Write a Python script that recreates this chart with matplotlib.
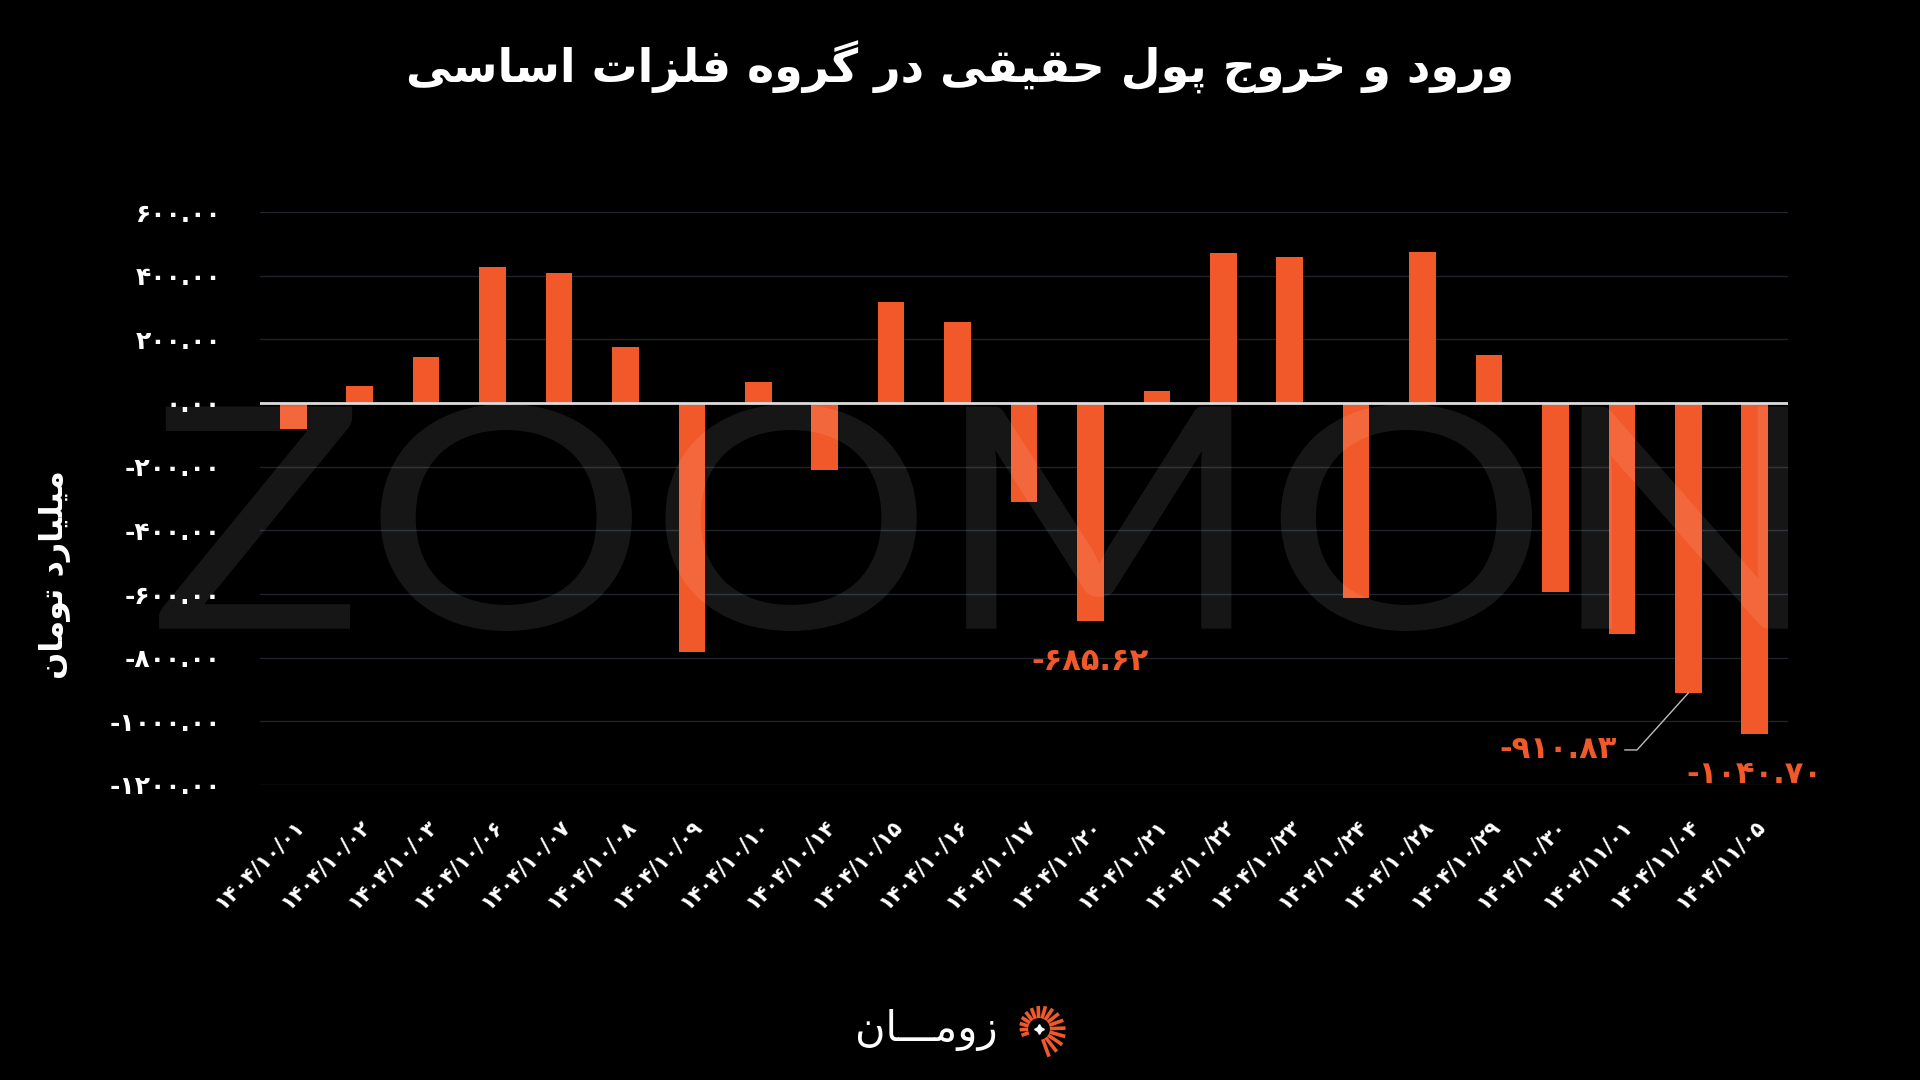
import numpy as np
import matplotlib.pyplot as plt
from matplotlib.textpath import TextPath
from matplotlib.font_manager import FontProperties
from matplotlib.patches import PathPatch
from matplotlib.transforms import Affine2D

# داده ها
dates = ['1404/10/01', '1404/10/02', '1404/10/03', '1404/10/06', '1404/10/07',
         '1404/10/08', '1404/10/09', '1404/10/10', '1404/10/14', '1404/10/15',
         '1404/10/16', '1404/10/17', '1404/10/20', '1404/10/21', '1404/10/22',
         '1404/10/23', '1404/10/24', '1404/10/28', '1404/10/29', '1404/10/30',
         '1404/11/01', '1404/11/04', '1404/11/05']
values = [-82, 52, 143, 427, 408, 175, -783, 67, -210, 317, 256, -310, -685.62,
          39, 470, 459, -612, 475, 152, -594, -725, -910.83, -1040.70]
yticks = [600, 400, 200, 0, -200, -400, -600, -800, -1000, -1200]
labelled = [12, 21, 22]

title = 'ورود و خروج پول حقیقی در گروه فلزات اساسی'
ylabel = 'میلیارد تومان'
brand = 'زومـــان'

ORANGE = '#F2592A'

# شکل دادن حروف فارسی (matplotlib خودش این کار را نمی کند)
FORMS = {
    'ا': (0xFE8D, 0xFE8E), 'د': (0xFEA9, 0xFEAA), 'ر': (0xFEAD, 0xFEAE),
    'ز': (0xFEAF, 0xFEB0), 'و': (0xFEED, 0xFEEE),
    'ت': (0xFE95, 0xFE96, 0xFE97, 0xFE98), 'ج': (0xFE9D, 0xFE9E, 0xFE9F, 0xFEA0),
    'ح': (0xFEA1, 0xFEA2, 0xFEA3, 0xFEA4), 'خ': (0xFEA5, 0xFEA6, 0xFEA7, 0xFEA8),
    'س': (0xFEB1, 0xFEB2, 0xFEB3, 0xFEB4), 'ف': (0xFED1, 0xFED2, 0xFED3, 0xFED4),
    'ق': (0xFED5, 0xFED6, 0xFED7, 0xFED8), 'ل': (0xFEDD, 0xFEDE, 0xFEDF, 0xFEE0),
    'م': (0xFEE1, 0xFEE2, 0xFEE3, 0xFEE4), 'ن': (0xFEE5, 0xFEE6, 0xFEE7, 0xFEE8),
    'ه': (0xFEE9, 0xFEEA, 0xFEEB, 0xFEEC), 'پ': (0xFB56, 0xFB57, 0xFB58, 0xFB59),
    'گ': (0xFB92, 0xFB93, 0xFB94, 0xFB95), 'ی': (0xFBFC, 0xFBFD, 0xFBFE, 0xFBFF),
}
DUAL = set('تجحخسفقلمنهپگیـ')


def shape(text):
    out = []
    for i, ch in enumerate(text):
        prev = text[i - 1] if i > 0 else ''
        nxt = text[i + 1] if i + 1 < len(text) else ''
        if ch not in FORMS:
            out.append(ch)
            continue
        jp = prev in DUAL
        jn = ch in DUAL and (nxt in FORMS or nxt == 'ـ')
        f = FORMS[ch]
        if len(f) == 2:
            out.append(chr(f[1] if jp else f[0]))
        else:
            iso, fin, ini, med = f
            out.append(chr(med if (jp and jn) else fin if jp else ini if jn else iso))
    return ''.join(reversed(out))


FA = str.maketrans('0123456789', '۰۱۲۳۴۵۶۷۸۹')


def fa_num(v):
    return ('%.2f' % v).translate(FA)


plt.rcParams['font.family'] = ['DejaVu Sans']

fig = plt.figure(figsize=(19.2, 10.8), dpi=100, facecolor='black')
ax = fig.add_axes([260 / 1920, 1 - 785 / 1080, 1528 / 1920, 573 / 1080])
ax.set_facecolor('black')

x = np.arange(len(values))
ax.bar(x, values, width=0.4, color=ORANGE, zorder=2)
ax.axhline(0, color='#dcdcdc', lw=2, zorder=3)

ax.set_xlim(-0.5, len(values) - 0.5)
ax.set_ylim(-1200, 600)
ax.set_yticks(yticks)
ax.set_yticklabels([fa_num(v) for v in yticks], fontweight='bold')
ax.set_xticks(x)
ax.set_xticklabels([d.translate(FA) for d in dates], rotation=45, ha='right',
                   va='top', rotation_mode='anchor', fontweight='bold')
ax.tick_params(axis='y', length=0, colors='white', labelsize=18, pad=28)
ax.tick_params(axis='x', length=0, colors='white', labelsize=15, pad=22)
ax.grid(axis='y', color='#1d242a', lw=1, zorder=0)
ax.set_axisbelow(True)
for s in ax.spines.values():
    s.set_visible(False)

# برچسب ها
for i in labelled:
    if i == 21:
        ax.annotate(fa_num(values[i]), xy=(i, values[i]), xytext=(-72, -57),
                    textcoords='offset pixels', ha='right', va='center',
                    color=ORANGE, fontsize=22, fontweight='bold', zorder=5,
                    arrowprops=dict(arrowstyle='-', color='#bdbdbd', lw=1,
                                    relpos=(1, 0.5), shrinkA=4, shrinkB=0,
                                    connectionstyle='angle,angleA=0,angleB=48,rad=0'))
    else:
        ax.annotate(fa_num(values[i]), xy=(i, values[i]), xytext=(0, -40),
                    textcoords='offset pixels', ha='center', va='center',
                    color=ORANGE, fontsize=22, fontweight='bold', zorder=5)

# واترمارک
wm = TextPath((0, 0), 'ZOOMON', size=100, prop=FontProperties(family='Lato'))
bb = wm.get_extents()
x0, y0, x1, y1 = 159, 1080 - 631, 1788, 1080 - 404
tr = (Affine2D().translate(-bb.x0, -bb.y0)
      .scale((x1 - x0) / bb.width, (y1 - y0) / bb.height).translate(x0, y0))
fig.patches.append(PathPatch(tr.transform_path(wm), facecolor='white', alpha=0.09,
                             edgecolor='none', transform=None, zorder=10))

fig.text(0.5, 1 - 67 / 1080, shape(title), ha='center', va='center',
         color='white', fontsize=33, fontweight='bold')
fig.text(55 / 1920, 1 - 575 / 1080, shape(ylabel), ha='center', va='center',
         rotation=90, color='white', fontsize=23, fontweight='bold')

# لوگو
fig.text(998 / 1920, 1 - 1030 / 1080, shape(brand), ha='right', va='center',
         color='white', fontsize=30)
lax = fig.add_axes([1008 / 1920, 1 - 1060 / 1080, 62 / 1920, 62 / 1080])
lax.set_xlim(-1, 1)
lax.set_ylim(-1, 1)
lax.set_aspect('equal')
lax.axis('off')
for k, a in enumerate(np.linspace(200, -70, 16)):
    r = np.deg2rad(a)
    outer = 0.6 + 0.35 * k / 15
    lax.plot([0.35 * np.cos(r), outer * np.cos(r)], [0.35 * np.sin(r), outer * np.sin(r)],
             color=ORANGE, lw=2.6, solid_capstyle='butt')
lax.plot(0, 0, marker=(4, 1, 0), color='white', ms=7)

fig.savefig('out.png', dpi=100, facecolor='black')
